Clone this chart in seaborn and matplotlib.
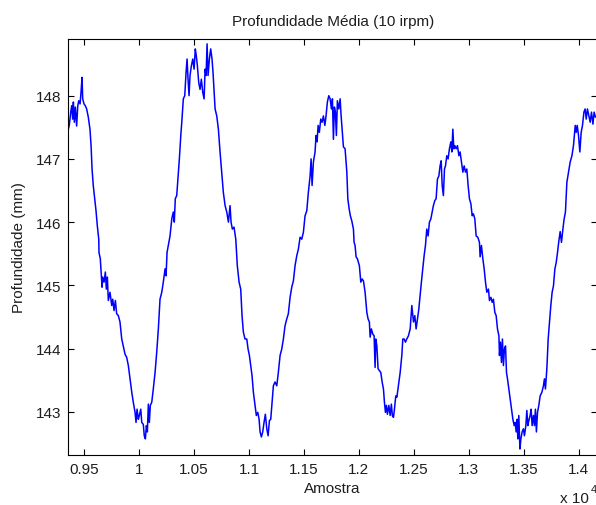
import matplotlib
matplotlib.use("Agg")
import matplotlib.pyplot as plt
import seaborn as sns
import pandas as pd
from matplotlib.ticker import FixedLocator, FuncFormatter

# ---- data ----
amostra = [
    9357, 9366, 9379, 9388, 9397, 9403, 9412, 9421, 9433, 9443, 9452, 9464, 9473, 9482, 9488,
    9500, 9512, 9524, 9539, 9554, 9564, 9573, 9584, 9600, 9609, 9621, 9634, 9636, 9648, 9657,
    9664, 9670, 9682, 9694, 9703, 9712, 9721, 9736, 9752, 9761, 9773, 9785, 9797, 9812, 9827,
    9843, 9857, 9873, 9888, 9903, 9918, 9934, 9948, 9964, 9973, 9982, 9994, 10003, 10016, 10025,
    10039, 10048, 10058, 10067, 10076, 10085, 10094, 10103, 10116, 10130, 10146, 10161, 10176, 10191, 10207,
    10221, 10237, 10246, 10255, 10273, 10282, 10298, 10312, 10321, 10330, 10343, 10358, 10367, 10380, 10391,
    10403, 10416, 10428, 10437, 10446, 10455, 10464, 10476, 10489, 10501, 10512, 10521, 10531, 10543, 10555,
    10567, 10580, 10592, 10601, 10610, 10619, 10628, 10640, 10652, 10664, 10673, 10683, 10692, 10707, 10722,
    10737, 10752, 10767, 10783, 10798, 10813, 10828, 10837, 10849, 10864, 10880, 10894, 10910, 10925, 10937,
    10949, 10964, 10980, 10992, 11004, 11016, 11028, 11040, 11055, 11067, 11080, 11092, 11101, 11113, 11125,
    11137, 11149, 11162, 11174, 11186, 11198, 11210, 11222, 11237, 11253, 11267, 11283, 11298, 11313, 11328,
    11344, 11358, 11374, 11389, 11404, 11419, 11435, 11449, 11465, 11480, 11495, 11510, 11526, 11540, 11556,
    11565, 11574, 11586, 11601, 11610, 11619, 11629, 11640, 11653, 11665, 11677, 11690, 11701, 11713, 11726,
    11738, 11750, 11759, 11768, 11777, 11786, 11795, 11804, 11817, 11829, 11838, 11847, 11859, 11874, 11890,
    11899, 11911, 11922, 11935, 11950, 11956, 11965, 11974, 11986, 12004, 12017, 12029, 12041, 12056, 12072,
    12083, 12095, 12102, 12113, 12126, 12138, 12147, 12153, 12163, 12174, 12186, 12199, 12211, 12223, 12232,
    12241, 12250, 12259, 12272, 12284, 12295, 12304, 12314, 12323, 12335, 12345, 12359, 12375, 12390, 12399,
    12411, 12423, 12435, 12450, 12466, 12481, 12496, 12508, 12520, 12532, 12545, 12556, 12568, 12581, 12593,
    12605, 12617, 12629, 12641, 12654, 12666, 12677, 12690, 12702, 12714, 12727, 12738, 12748, 12757, 12768,
    12778, 12787, 12799, 12811, 12823, 12836, 12845, 12854, 12863, 12872, 12884, 12896, 12909, 12920, 12932,
    12945, 12957, 12969, 12981, 12993, 13005, 13018, 13030, 13041, 13054, 13066, 13081, 13096, 13102, 13114,
    13127, 13139, 13151, 13163, 13178, 13187, 13200, 13212, 13223, 13236, 13248, 13260, 13273, 13278, 13287,
    13296, 13305, 13314, 13323, 13333, 13342, 13351, 13363, 13375, 13387, 13400, 13412, 13421, 13430, 13439,
    13445, 13454, 13464, 13473, 13484, 13496, 13505, 13518, 13527, 13536, 13545, 13557, 13566, 13575, 13587,
    13596, 13605, 13614, 13624, 13636, 13648, 13664, 13678, 13687, 13696, 13709, 13721, 13733, 13745, 13757,
    13769, 13782, 13794, 13806, 13818, 13830, 13842, 13855, 13866, 13878, 13891, 13906, 13921, 13937, 13951,
    13967, 13976, 13985, 13997, 14009, 14021, 14033, 14046, 14057, 14067, 14078, 14091, 14103, 14115, 14128,
    14139, 14151,
]
profundidade = [
    147.47, 147.53, 147.74, 147.84, 147.63, 147.90, 147.58, 147.82, 147.52, 147.84, 147.92, 147.87, 148.06, 148.29, 147.95,
    147.87, 147.84, 147.79, 147.66, 147.47, 147.21, 146.84, 146.58, 146.32, 146.18, 145.94, 145.73, 145.52, 145.42, 145.15,
    144.97, 145.13, 145.05, 145.21, 144.94, 145.13, 144.76, 144.89, 144.68, 144.78, 144.60, 144.76, 144.55, 144.52, 144.42,
    144.15, 144.04, 143.91, 143.86, 143.73, 143.52, 143.31, 143.15, 142.99, 142.83, 143.04, 142.88, 142.94, 143.04, 142.83,
    142.80, 142.62, 142.57, 142.78, 142.68, 143.12, 142.83, 143.10, 143.15, 143.36, 143.62, 143.94, 144.31, 144.78, 144.89,
    145.05, 145.26, 145.15, 145.52, 145.70, 145.78, 146.05, 146.16, 146.00, 146.37, 146.42, 146.79, 147.00, 147.37, 147.63,
    147.95, 148.00, 148.37, 148.58, 148.26, 148.00, 148.32, 148.47, 148.58, 148.42, 148.74, 148.63, 148.47, 148.21, 148.10,
    148.26, 148.05, 147.95, 148.42, 148.32, 148.82, 148.32, 148.58, 148.74, 148.58, 148.37, 148.05, 147.79, 147.68, 147.47,
    147.11, 146.79, 146.47, 146.26, 146.16, 146.00, 146.26, 146.00, 145.89, 145.92, 145.73, 145.31, 145.05, 144.94, 144.52,
    144.26, 144.15, 144.15, 143.99, 143.89, 143.73, 143.57, 143.31, 143.10, 142.94, 142.99, 142.88, 142.68, 142.60, 142.68,
    142.83, 142.96, 142.73, 142.62, 142.86, 142.88, 143.15, 143.41, 143.47, 143.41, 143.62, 143.89, 143.99, 144.15, 144.36,
    144.47, 144.55, 144.81, 144.97, 145.07, 145.31, 145.47, 145.57, 145.76, 145.73, 145.84, 146.10, 146.18, 146.47, 146.73,
    147.00, 146.58, 146.95, 147.11, 147.37, 147.27, 147.53, 147.42, 147.63, 147.58, 147.68, 147.53, 147.68, 147.90, 148.00,
    147.95, 147.79, 147.95, 147.31, 147.82, 147.74, 147.37, 147.92, 147.79, 147.95, 147.68, 147.47, 147.19, 147.16, 146.79,
    146.37, 146.21, 146.10, 146.02, 145.89, 145.68, 145.63, 145.45, 145.42, 145.31, 145.05, 145.10, 145.07, 144.89, 144.57,
    144.47, 144.42, 144.18, 144.31, 144.23, 144.20, 143.70, 144.15, 144.04, 143.68, 143.65, 143.62, 143.47, 143.36, 143.15,
    142.99, 143.10, 142.96, 143.10, 142.94, 143.12, 142.94, 142.91, 143.04, 143.25, 143.23, 143.41, 143.62, 143.89, 144.15,
    144.15, 144.10, 144.15, 144.20, 144.31, 144.68, 144.42, 144.52, 144.31, 144.47, 144.63, 144.84, 145.05, 145.26, 145.47,
    145.63, 145.89, 145.78, 146.00, 146.05, 146.16, 146.26, 146.34, 146.37, 146.68, 146.73, 146.89, 146.97, 146.58, 146.42,
    146.84, 146.89, 147.05, 147.00, 147.16, 147.27, 147.11, 147.47, 147.16, 147.21, 147.16, 147.21, 147.05, 147.11, 146.95,
    146.79, 146.89, 146.79, 146.84, 146.58, 146.37, 146.29, 146.10, 146.13, 146.05, 145.78, 145.76, 145.68, 145.45, 145.63,
    145.42, 145.26, 145.05, 144.89, 144.94, 144.76, 144.81, 144.73, 144.78, 144.57, 144.52, 144.31, 144.20, 143.89, 144.10,
    143.78, 144.15, 143.73, 143.99, 144.04, 143.62, 143.52, 143.36, 143.20, 143.04, 142.88, 142.78, 142.83, 142.68, 142.88,
    142.57, 142.94, 142.41, 142.57, 142.68, 142.73, 142.62, 142.78, 143.02, 142.78, 142.86, 142.94, 143.04, 142.78, 142.94,
    142.78, 143.04, 142.68, 142.99, 143.10, 143.25, 143.31, 143.41, 143.52, 143.36, 143.68, 144.15, 144.42, 144.68, 144.89,
    144.99, 145.26, 145.36, 145.52, 145.70, 145.85, 145.68, 145.89, 146.05, 146.16, 146.63, 146.79, 146.95, 147.05, 147.21,
    147.53, 147.42, 147.53, 147.37, 147.11, 147.42, 147.53, 147.74, 147.79, 147.63, 147.79, 147.68, 147.58, 147.74, 147.55,
    147.74, 147.66,
]
xticks = [9500, 10000, 10500, 11000, 11500, 12000, 12500, 13000, 13500, 14000]
yticks = [143, 144, 145, 146, 147, 148]
titulo = "Profundidade Média (10 irpm)"
rotulo_x = "Amostra"
rotulo_y = "Profundidade (mm)"

df = pd.DataFrame({"Amostra": amostra, "Profundidade": profundidade})

sns.set_style("white")
plt.rcParams["font.family"] = ["Liberation Sans", "DejaVu Sans"]
plt.rcParams["font.size"] = 11

txt = "#1e1e1e"

fig = plt.figure(figsize=(5.96, 5.06), dpi=100)
ax = fig.add_axes([68.3 / 596, 50 / 506, (597 - 68.3) / 596, 416 / 506])

sns.lineplot(data=df, x="Amostra", y="Profundidade", ax=ax, color="#0000ff",
             linewidth=1.1, estimator=None, sort=False)

ax.set_xlim(9357, 14165)
ax.set_ylim(142.315, 148.897)
ax.xaxis.set_major_locator(FixedLocator(xticks))
ax.yaxis.set_major_locator(FixedLocator(yticks))
ax.xaxis.set_major_formatter(FuncFormatter(lambda v, p: f"{v / 1e4:g}"))
ax.yaxis.set_major_formatter(FuncFormatter(lambda v, p: f"{v:g}"))

for s in ax.spines.values():
    s.set_visible(True)
    s.set_color("black")
    s.set_linewidth(0.8)
ax.tick_params(direction="in", length=4, width=0.8, color="black",
               top=True, right=True, bottom=True, left=True,
               labelsize=11, labelcolor=txt, pad=5)

ax.set_title(titulo, fontsize=11, color=txt, pad=10)
ax.set_xlabel(rotulo_x, fontsize=11, color=txt, labelpad=4)
ax.set_ylabel(rotulo_y, fontsize=11, color=txt, labelpad=7)

fig.text(560 / 596, 3 / 506, "x 10", fontsize=11, color=txt, ha="left", va="baseline")
fig.text(591 / 596, 13 / 506, "4", fontsize=8, color=txt, ha="left", va="baseline")

fig.savefig("out.png", dpi=100)
